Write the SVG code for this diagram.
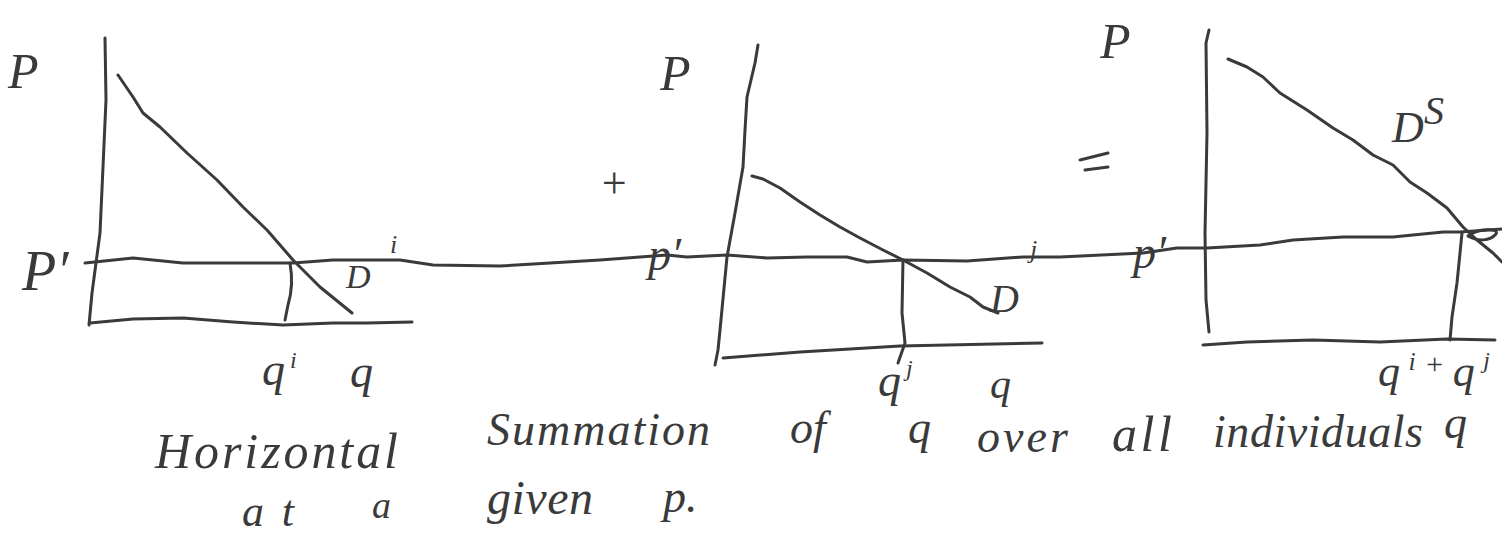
<svg xmlns="http://www.w3.org/2000/svg" width="1502" height="536" viewBox="0 0 1502 536">
<style>
.ln{fill:none;stroke:#3a3a3a;stroke-width:3;stroke-linecap:round;stroke-linejoin:round}
.t{font-family:"Liberation Serif","DejaVu Serif",serif;font-style:italic;fill:#3a3a3a}
</style>
<rect width="1502" height="536" fill="#ffffff"/>
<g id="price-line">
<path class="ln" d="M85,263 L133,258 L183,263 L233,263 L293,263 L333,260 L400,260 L433,265 L500,266 L550,263 L600,260 L640,257 L667,255 L687,257 L727,255 L767,258 L807,257 L847,257 L867,262 L903,260 L967,261 L1023,257 L1060,257 L1143,253 L1177,248 L1207,248 L1260,245 L1293,240 L1343,237 L1393,237 L1443,232 L1460,232 L1502,229"/>
</g>
<g id="panel-i">
<path class="ln" d="M105,38 L106,100 L103,167 L100,233 L96,263 L92,293 L89,325"/>
<path class="ln" d="M90,323 L133,319 L183,318 L233,322 L283,325 L333,323 L367,323 L412,322"/>
<path class="ln" d="M118,75 L133,97 L143,113 L160,127 L187,153 L217,180 L243,207 L267,230 L293,260 L320,287 L352,313"/>
<path class="ln" d="M290,263 Q294,285 288,305 L285,320"/>
<text class="t" x="8" y="88" font-size="50">P</text>
<text class="t" x="22" y="290" font-size="56">P′</text>
<text class="t" x="346" y="288" font-size="34">D</text>
<text class="t" x="390" y="253" font-size="26">i</text>
<text class="t" x="262" y="385" font-size="46">q</text>
<text class="t" x="290" y="368" font-size="24">i</text>
<text class="t" x="350" y="387" font-size="46">q</text>
</g>
<g id="panel-j">
<path class="ln" d="M758,45 L755,63 L747,97 L745,130 L743,167 L735,213 L727,257 L720,330 L718,350 L715,365"/>
<path class="ln" d="M723,358 L800,352 L900,346 L1042,343"/>
<path class="ln" d="M752,176 L763,179 L780,188 L800,202 L820,215 L840,227 L860,238 L883,250 L903,260 L927,273 L950,287 L970,297 L983,307 L998,313"/>
<path class="ln" d="M903,260 L902,313 L905,343 L898,363"/>
<text class="t" x="660" y="90" font-size="50">P</text>
<text class="t" x="599" y="198" font-size="44">+</text>
<text class="t" x="648" y="270" font-size="46">p′</text>
<text class="t" x="990" y="312" font-size="40">D</text>
<text class="t" x="1030" y="258" font-size="26">j</text>
<text class="t" x="878" y="396" font-size="46">q</text>
<text class="t" x="906" y="376" font-size="24">j</text>
<text class="t" x="990" y="398" font-size="42">q</text>
</g>
<g id="panel-sum">
<path class="ln" d="M1209,30 L1206,43 L1207,133 L1205,233 L1206,300 L1209,332"/>
<path class="ln" d="M1203,345 L1247,342 L1313,340 L1380,342 L1447,339 L1495,340"/>
<path class="ln" d="M1228,59 L1247,67 L1263,77 L1280,93 L1307,110 L1333,128 L1353,140 L1373,155 L1393,165 L1410,182 L1427,193 L1447,208 L1463,227 L1477,240 L1493,253 L1502,262"/>
<path class="ln" d="M1462,233 L1457,283 L1452,317 L1450,340"/>
<path class="ln" d="M1468,236 C1478,228 1500,228 1496,234 C1490,241 1478,242 1468,236"/>
<path class="ln" d="M1080,160 L1108,153 M1085,170 L1108,167"/>
<text class="t" x="1100" y="58" font-size="50">P</text>
<text class="t" x="1133" y="268" font-size="46">p′</text>
<text class="t" x="1392" y="142" font-size="44">D</text>
<text class="t" x="1424" y="124" font-size="40">S</text>
<text class="t" x="1378" y="386" font-size="44" textLength="112" lengthAdjust="spacing">q<tspan font-size="26" dy="-16">i</tspan><tspan font-size="30" dy="4">+</tspan><tspan font-size="44" dy="12">q</tspan><tspan font-size="24" dy="-18">j</tspan></text>
</g>
<g id="caption">
<text class="t" x="155" y="468" font-size="50" textLength="243" lengthAdjust="spacing">Horizontal</text>
<text class="t" x="487" y="445" font-size="46" textLength="223" lengthAdjust="spacing">Summation</text>
<text class="t" x="790" y="443" font-size="46">of</text>
<text class="t" x="908" y="443" font-size="46">q</text>
<text class="t" x="977" y="452" font-size="46" textLength="91" lengthAdjust="spacing">over</text>
<text class="t" x="1112" y="451" font-size="50" textLength="60" lengthAdjust="spacing">all</text>
<text class="t" x="1213" y="447" font-size="46" textLength="210" lengthAdjust="spacing">individuals</text>
<text class="t" x="1444" y="438" font-size="46">q</text>
<text class="t" x="242" y="526" font-size="44" textLength="52" lengthAdjust="spacing">at</text>
<text class="t" x="372" y="518" font-size="38">a</text>
<text class="t" x="487" y="514" font-size="48" textLength="106" lengthAdjust="spacing">given</text>
<text class="t" x="663" y="512" font-size="46">p.</text>
</g>
</svg>
